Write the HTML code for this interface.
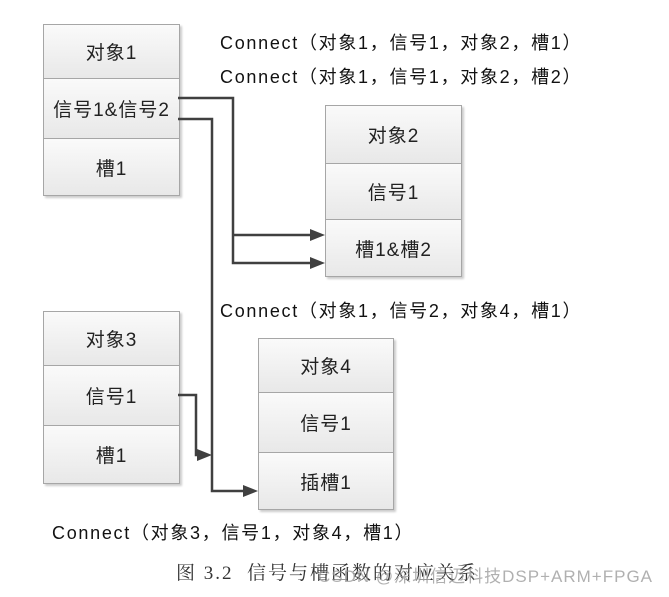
<!DOCTYPE html>
<html><head><meta charset="utf-8"><style>
body{margin:0;width:669px;height:597px;background:#fff;position:relative;overflow:hidden;font-family:"Liberation Sans","Noto Sans CJK SC",sans-serif;}
.box{position:absolute;border:1px solid #a6a6a6;box-shadow:2px 2px 2px #ccc;}
.c{position:absolute;left:0;right:0;display:flex;align-items:center;justify-content:center;font-size:19px;letter-spacing:1px;color:#222;background:linear-gradient(#fafafa,#e8e8e8);border-bottom:1px solid #a6a6a6;box-sizing:border-box;}
.c:last-child{border-bottom:none}
.t{position:absolute;font-size:18px;letter-spacing:1.7px;color:#111;white-space:nowrap;line-height:20px;}
</style></head><body>
<div class="box" style="left:43px;top:24px;width:135px;height:170px">
<div class="c" style="top:0;height:54px">对象1</div>
<div class="c" style="top:54px;height:60px">信号1&amp;信号2</div>
<div class="c" style="top:114px;height:56px">槽1</div></div>
<div class="box" style="left:325px;top:105px;width:135px;height:170px">
<div class="c" style="top:0;height:58px">对象2</div>
<div class="c" style="top:58px;height:56px">信号1</div>
<div class="c" style="top:114px;height:56px">槽1&amp;槽2</div></div>
<div class="box" style="left:43px;top:311px;width:135px;height:171px">
<div class="c" style="top:0;height:54px">对象3</div>
<div class="c" style="top:54px;height:60px">信号1</div>
<div class="c" style="top:114px;height:57px">槽1</div></div>
<div class="box" style="left:258px;top:338px;width:134px;height:170px">
<div class="c" style="top:0;height:54px">对象4</div>
<div class="c" style="top:54px;height:60px">信号1</div>
<div class="c" style="top:114px;height:56px">插槽1</div></div>
<svg width="669" height="597" style="position:absolute;left:0;top:0" fill="none" stroke="#404040" stroke-width="2.5">
<polyline points="178,98 233,98 233,263 313,263"/>
<polyline points="233,235 313,235"/>
<polyline points="178,119 212,119 212,491 246,491"/>
<polyline points="178,395 196,395 196,455 200,455"/>
<g fill="#404040" stroke="none">
<polygon points="325,235 310,229 310,241"/>
<polygon points="325,263 310,257 310,269"/>
<polygon points="258,491 243,485 243,497"/>
<polygon points="212,455 197,449 197,461"/>
</g></svg>
<div class="t" style="left:220px;top:33px">Connect（对象1，信号1，对象2，槽1）</div>
<div class="t" style="left:220px;top:67px">Connect（对象1，信号1，对象2，槽2）</div>
<div class="t" style="left:220px;top:301px">Connect（对象1，信号2，对象4，槽1）</div>
<div class="t" style="left:52px;top:523px">Connect（对象3，信号1，对象4，槽1）</div>
<div class="t" style="left:176px;top:564px;font-family:'Liberation Serif','Noto Serif CJK SC',serif;font-size:19px;letter-spacing:2px;color:#333">图 3.2&nbsp; 信号与槽函数的对应关系</div>
<div class="t" style="left:318px;top:567px;font-size:17px;letter-spacing:1px;color:rgba(150,150,150,0.75)">CSDN @深圳信迈科技DSP+ARM+FPGA</div>
</body></html>
